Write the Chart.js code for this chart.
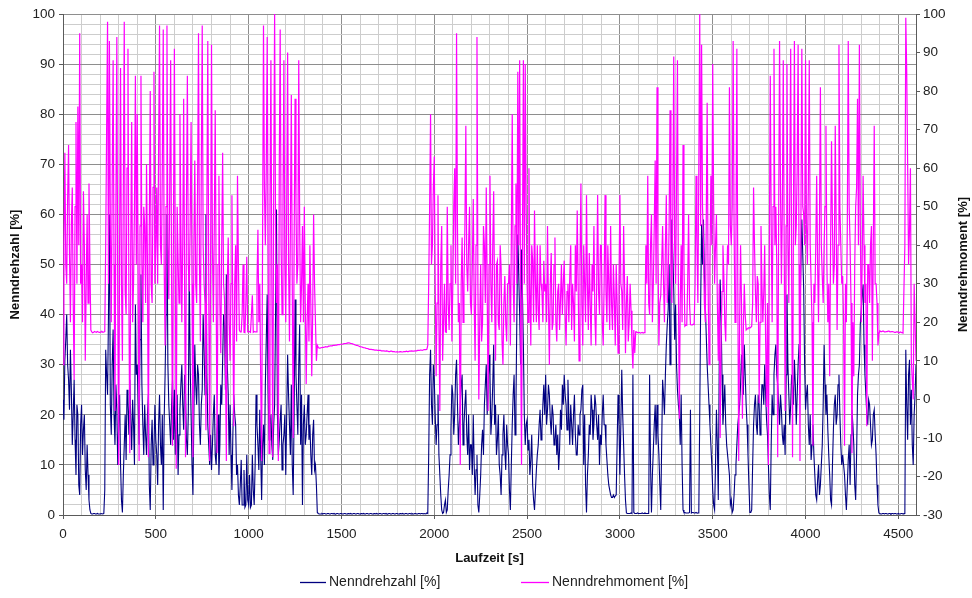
<!DOCTYPE html>
<html>
<head>
<meta charset="utf-8">
<script src="https://cdn.jsdelivr.net/npm/chart.js@4/dist/chart.umd.min.js"></script>
<style>
  html, body { margin: 0; padding: 0; background: #ffffff; }
  #wrap { width: 972px; height: 598px; }
</style>
</head>
<body>
<div id="wrap"><canvas id="c" width="972" height="598"></canvas></div>
<script>
// ---- data ----
const SAMPLE_STEP_S = 10;            // main samples at t = 0, 10, 20 ... s; in-between samples at t = 5, 15, 25 ... s
const X_GRID_STEP = 100;             // light vertical grid every 100 s
const xTickLabels = [0, 500, 1000, 1500, 2000, 2500, 3000, 3500, 4000, 4500];
const leftTickLabels = [0, 10, 20, 30, 40, 50, 60, 70, 80, 90, 100];
const rightTickLabels = [-30, -20, -10, 0, 10, 20, 30, 40, 50, 60, 70, 80, 90, 100];
const seriesNames = ['Nenndrehzahl [%]', 'Nenndrehmoment [%]'];
const xTitle = 'Laufzeit [s]';

// Nenndrehzahl [%] (left axis), t = 0, 10, 20 ... 4590 s
const nenndrehzahl = [
  23, 31, 40, 27, 33, 14, 27, 8, 20, 4,
  22, 17, 9, 14, 3, 0.3, 0.2, 0.3, 0.2, 0.2,
  0.2, 0.3, 0.3, 33, 24, 60, 16, 37, 14, 21,
  18, 10, 0.5, 14, 11, 22, 27, 13, 18, 42,
  30, 14, 48, 18, 22, 12, 24, 1, 19, 13,
  15, 6, 24, 10, 1, 28, 60, 22, 14, 27,
  25, 18, 8, 21, 30, 17, 24, 12, 49, 20,
  4, 34, 22, 28, 14, 25, 33, 60, 18, 10,
  9, 20, 12, 17, 8, 26, 31, 38, 48, 24,
  22, 5, 24, 18, 10, 2, 11, 2, 1.5, 12,
  2, 1.5, 12, 2, 24, 14, 21, 3, 18, 26,
  44, 15, 20, 11, 22, 61, 12, 19, 9, 16,
  8, 32, 18, 26, 4, 43, 22, 30, 14, 2,
  22, 16, 24, 18, 8, 19, 10, 0.5, 0.2, 0.2,
  0.2, 0.3, 0.2, 0.3, 0.2, 0.3, 0.3, 0.2, 0.3, 0.2,
  0.3, 0.2, 0.3, 0.2, 0.3, 0.3, 0.2, 0.3, 0.2, 0.3,
  0.2, 0.3, 0.3, 0.2, 0.3, 0.2, 0.3, 0.2, 0.3, 0.3,
  0.2, 0.3, 0.2, 0.3, 0.3, 0.2, 0.3, 0.2, 0.3, 0.2,
  0.3, 0.2, 0.3, 0.3, 0.2, 0.3, 0.2, 0.3, 0.3, 0.2,
  0.3, 0.2, 0.3, 0.3, 0.2, 0.3, 0.4, 12, 33, 18,
  27, 14, 24, 8, 1, 0.5, 3, 1, 8, 17,
  24, 20, 31, 14, 22, 28, 18, 25, 12, 9,
  14, 20, 4, 12, 0.5, 8, 17, 22, 30, 25,
  28, 20, 34, 22, 15, 10, 4, 16, 13, 18,
  12, 1, 18, 28, 22, 56, 40, 53, 34, 14,
  19, 15, 11, 6, 1, 9, 14, 21, 17, 26,
  28, 21, 24, 16, 20, 15, 12, 9, 21, 26,
  28, 22, 27, 14, 18, 20, 16, 12, 16, 21,
  26, 20, 0.5, 12, 16, 21, 18, 22, 15, 10,
  14, 24, 18, 11, 6, 4, 3.5, 3.5, 4, 24,
  8, 29, 14, 3, 0.3, 0.3, 0.4, 28, 0.3, 0.3,
  0.3, 0.3, 0.4, 0.3, 0.3, 0.3, 28, 0.5, 13, 22,
  22, 12, 1, 27, 20, 34, 41, 30, 59, 45,
  42, 25, 20, 24, 1, 0.5, 0.4, 0.4, 21, 0.5,
  0.4, 0.5, 0.4, 20, 58, 59, 42, 30, 22, 14,
  5, 1, 21, 3, 47, 28, 22, 18, 12, 8,
  3, 1, 8, 14, 20, 26, 28, 34, 22, 12,
  0.5, 1, 18, 24, 16, 22, 20, 26, 30, 19,
  10, 1, 24, 28, 34, 26, 18, 21, 14, 12,
  44, 24, 22, 26, 31, 18, 30, 40, 59, 45,
  21, 26, 14, 11, 18, 8, 3, 10, 6, 14,
  34, 20, 17, 8, 2, 17, 24, 20, 28, 14,
  12, 8, 1, 11, 6, 21, 14, 3, 24, 30,
  41, 46, 28, 20, 23, 18, 15, 21, 12, 2,
  0.3, 0.2, 0.3, 0.3, 0.2, 0.3, 0.2, 0.3, 0.3, 0.2,
  0.3, 0.2, 0.3, 0.3, 33, 15, 31, 25, 10, 24
];
// Nenndrehzahl [%], in-between samples t = 5, 15, 25 ... 4595 s
const nenndrehzahlZwischen = [
  19, 35, 30, 21, 25, 20, 15, 22, 6, 18,
  12, 20, 5, 8, 1, 0.2, 0.3, 0.2, 0.3, 0.2,
  0.3, 0.2, 5, 28, 40, 22, 30, 20, 26, 10,
  24, 3, 8, 20, 25, 16, 19, 23, 10, 28,
  22, 35, 26, 12, 16, 20, 6, 14, 10, 22,
  12, 18, 14, 20, 19, 40, 30, 18, 22, 15,
  12, 24, 16, 26, 22, 28, 15, 20, 30, 10,
  20, 26, 30, 18, 22, 40, 24, 28, 14, 16,
  14, 24, 10, 20, 14, 22, 40, 25, 30, 12,
  12, 16, 20, 8, 4, 6, 2, 9, 2, 3,
  8, 2, 5, 10, 18, 9, 12, 14, 10, 35,
  25, 18, 14, 18, 40, 20, 15, 22, 14, 20,
  20, 24, 12, 10, 20, 28, 16, 38, 24, 18,
  14, 20, 15, 12, 16, 9, 6, 0.3, 0.2, 0.3,
  0.3, 0.2, 0.3, 0.2, 0.3, 0.2, 0.2, 0.3, 0.2, 0.3,
  0.2, 0.3, 0.2, 0.3, 0.2, 0.2, 0.3, 0.2, 0.3, 0.2,
  0.3, 0.2, 0.2, 0.3, 0.2, 0.3, 0.2, 0.3, 0.2, 0.2,
  0.3, 0.2, 0.3, 0.2, 0.2, 0.3, 0.2, 0.3, 0.2, 0.3,
  0.2, 0.3, 0.2, 0.2, 0.3, 0.2, 0.3, 0.2, 0.2, 0.3,
  0.2, 0.3, 0.2, 0.3, 0.3, 0.2, 0.3, 28, 22, 30,
  20, 18, 12, 4, 0.3, 2, 0.5, 5, 12, 26,
  16, 28, 22, 18, 26, 14, 22, 16, 20, 14,
  8, 10, 9, 2, 4, 14, 12, 26, 20, 32,
  16, 26, 18, 12, 20, 8, 12, 20, 9, 14,
  5, 10, 24, 16, 40, 48, 30, 44, 20, 18,
  13, 8, 16, 3, 5, 12, 18, 15, 22, 20,
  18, 26, 19, 22, 14, 18, 16, 13, 17, 22,
  24, 17, 20, 22, 14, 24, 12, 18, 20, 25,
  10, 6, 8, 18, 24, 15, 24, 18, 20, 16,
  20, 18, 14, 8, 5, 3.5, 4, 3.8, 14, 18,
  18, 20, 8, 0.4, 0.3, 0.3, 0.3, 0.5, 0.3, 0.4,
  0.3, 0.3, 0.3, 0.4, 0.3, 0.3, 10, 8, 18, 14,
  16, 6, 14, 24, 28, 38, 50, 44, 52, 35,
  30, 22, 14, 10, 0.5, 0.4, 0.4, 0.5, 0.4, 0.5,
  0.4, 0.4, 0.4, 42, 50, 48, 36, 26, 18, 10,
  2, 10, 14, 30, 40, 18, 26, 14, 10, 2,
  0.5, 4, 10, 18, 22, 32, 24, 28, 18, 6,
  0.5, 10, 22, 18, 24, 16, 26, 22, 24, 16,
  4, 14, 20, 32, 28, 22, 24, 16, 18, 28,
  30, 18, 28, 22, 26, 24, 34, 50, 52, 30,
  24, 18, 20, 14, 12, 4, 7, 4, 10, 22,
  26, 24, 12, 3, 10, 22, 18, 26, 20, 10,
  10, 4, 6, 14, 16, 18, 6, 12, 28, 38,
  44, 34, 24, 18, 22, 14, 20, 16, 6, 0.4,
  0.2, 0.3, 0.2, 0.3, 0.2, 0.3, 0.3, 0.2, 0.3, 0.2,
  0.2, 0.3, 0.2, 0.3, 22, 28, 18, 14, 20, 30
];

// Nenndrehmoment [%] (right axis), t = 0, 10, 20 ... 4590 s
const nenndrehmoment = [
  9, 64, 30, 66, 20, 55, 5, 72, 76, 95,
  35, 54, 10, 48, 56, 18, 17.3, 17.6, 17.4, 17.5,
  17.4, 17.6, 17.5, 40, 98, 93, 20, 88, -3, 94,
  -17, 86, 10, 98, 22, 91, -14, 72, 30, 84,
  74, -16, 84, 20, 45, 61, -15, 80, 25, 85,
  40, 30, 97, 35, 96, 14, 97, 26, 88, -12,
  91, -18, 36, 74, 20, 78, -15, 84, 28, 72,
  -15, 62, 25, 95, 15, 97, 30, -8, 93, -16,
  92, 20, 75, -14, 58, 12, 64, 26, -16, 42,
  10, 53, -7, 40, 58, 18, 17.5, 35, 17.3, 37,
  17.5, 17.4, 27, 17.6, 17.5, 44, 30, -16, 97, 40,
  94, -14, 88, -15, 100, 25, -16, 96, 22, 88,
  20, 90, 15, 79, -10, 78, 30, 88, 20, 45,
  50, 4, 30, 40, 6, 48, 20, 14, 13.3, 13.4,
  13.5, 13.6, 13.6, 13.8, 13.9, 13.9, 14.0, 14.1, 14.2, 14.2,
  14.3, 14.4, 14.5, 14.6, 14.7, 14.5, 14.4, 14.2, 14.0, 13.9,
  13.7, 13.6, 13.4, 13.3, 13.2, 13.0, 13.0, 12.9, 12.8, 12.8,
  12.7, 12.7, 12.6, 12.6, 12.5, 12.5, 12.4, 12.5, 12.4, 12.3,
  12.4, 12.3, 12.4, 12.3, 12.4, 12.5, 12.4, 12.5, 12.6, 12.5,
  12.6, 12.7, 12.7, 12.8, 12.8, 12.9, 13, 30, 74, 40,
  63, 6, 53, -3, 45, 20, 17.5, 50, 18, 40,
  30, 60, 95, 20, -17, 42, 30, 71, 28, 50,
  22, 52, 10, 94, 0, 35, 20, 40, 55, -3,
  58, 20, 54, 10, 36, 18, 34, 9, 32, 15,
  30, 14, 74, 20, 56, 85, 88, -17, 88, 87,
  30, 60, 14, 36, 49, 20, 23, 40, 28, 36,
  30, 45, 9, 38, 20, 42, 15, 30, 26, 22,
  36, 14, 30, 32, 18, 25, 40, 49, 10, 56,
  14, 30, 53, 18, 25, 35, 45, 14, 53, 22,
  40, 14, 53, 20, 30, 45, 18, 26, 35, 12,
  53, 28, 45, 12, 32, 20, 23, 8, 12, 17.5,
  17.3, 17.2, 17.4, 17.3, 40, 58, 22, 48, 30, 62,
  81, 14, 27, 45, 20, 53, 30, 75, 25, 89,
  30, 88, -5, 40, 66, 19, 19.2, 48, 19.4, 19.3,
  19.4, 58, 25, 100, 92, 40, 20, 77, 9, 58,
  87, 30, 48, 10, -10, 28, 32, 15, 40, 81,
  40, 93, 20, 91, -16, 40, -5, 30, 18, 18.5,
  18.5, 19, 55, 28, 32, -1, 45, 20, 40, -2,
  -17, 84, 20, 91, 50, -15, 93, 30, 88, -3,
  87, 25, 91, -15, 93, 45, 92, -16, 91, 48,
  88, 35, 88, 30, -12, 25, 58, 20, 81, 32,
  40, 71, 20, 6, 67, 30, 71, 18, 92, 40,
  32, -12, 20, 93, 40, -14, 6, 50, 78, 92,
  20, 58, 25, -7, 35, 40, 10, 71, 30, 14,
  17.8, 17.6, 17.7, 17.5, 17.6, 17.7, 17.5, 17.6, 17.4, 17.5,
  17.4, 17.5, 17.3, 17.2, 99, 61, 44, 10, 0, 20
];
// Nenndrehmoment [%], in-between samples t = 5, 15, 25 ... 4595 s
const nenndrehmomentZwischen = [
  40, 35, 52, 38, 45, 25, 50, 30, 40, 30,
  20, 40, 30, 25, 35, 17.5, 17.4, 17.5, 17.6, 17.4,
  17.5, 17.4, 17.6, 70, 30, 45, 55, 35, 50, 25,
  40, 30, 55, 28, 60, 25, 40, 20, 50, 35,
  30, 45, 35, 50, 25, 35, 45, 30, 55, 30,
  55, 65, 40, 60, 35, 50, 40, 55, 30, 45,
  35, 50, 25, 45, 40, 30, 50, 35, 45, 30,
  40, 30, 55, 35, 60, 40, 25, 50, 30, 35,
  40, 45, 30, 35, 25, 40, 30, 10, 30, 20,
  30, 20, 30, 15, 35, 17.5, 22, 17.4, 25, 17.5,
  17.6, 22, 17.4, 17.5, 30, 20, 5, 40, 55, 60,
  40, 50, 30, 55, 45, 35, 60, 40, 50, 35,
  50, 35, 45, 30, 40, 50, 35, 45, 30, 20,
  25, 20, 15, 25, 22, 30, 10, 13.5, 13.3, 13.4,
  13.5, 13.7, 13.6, 13.8, 13.9, 14.0, 14.0, 14.1, 14.2, 14.3,
  14.3, 14.5, 14.5, 14.7, 14.6, 14.5, 14.3, 14.1, 14.0, 13.8,
  13.7, 13.5, 13.4, 13.2, 13.1, 13.0, 12.9, 12.9, 12.8, 12.7,
  12.7, 12.6, 12.6, 12.5, 12.6, 12.4, 12.5, 12.4, 12.4, 12.3,
  12.3, 12.4, 12.3, 12.4, 12.4, 12.4, 12.5, 12.6, 12.5, 12.6,
  12.6, 12.7, 12.8, 12.7, 12.9, 12.9, 14, 50, 35, 55,
  30, 25, 20, 35, 10, 30, 17.4, 25, 30, 15,
  50, 30, 45, 25, 30, 20, 45, 35, 40, 25,
  35, 25, 40, 30, 20, 15, 45, 25, 30, 35,
  30, 40, 25, 35, 20, 40, 15, 25, 20, 30,
  35, 40, 30, 45, 30, 40, 20, 40, 30, 50,
  20, 30, 40, 20, 30, 40, 18, 30, 20, 28,
  20, 25, 30, 18, 35, 20, 28, 18, 35, 30,
  22, 28, 20, 40, 30, 15, 28, 30, 35, 25,
  40, 20, 30, 38, 14, 28, 22, 30, 28, 40,
  20, 30, 28, 40, 18, 25, 35, 14, 25, 30,
  30, 18, 30, 25, 15, 30, 14, 18, 17.5, 17.3,
  17.4, 17.3, 17.2, 22, 30, 25, 40, 20, 45, 30,
  40, 25, 35, 30, 40, 25, 45, 35, 50, 40,
  55, 30, 25, 20, 35, 19.3, 30, 25, 19.3, 19.5,
  30, 40, 60, 45, 50, 25, 45, 30, 35, 40,
  50, 40, 25, 30, 15, 40, 20, 30, 35, 45,
  50, 45, 40, 30, 20, 25, 18, 22, 18.3, 18.6,
  18.7, 25, 40, 20, 30, 20, 30, 28, 15, 25,
  40, 45, 50, 40, 35, 45, 55, 50, 40, 45,
  40, 55, 35, 50, 40, 60, 35, 45, 50, 40,
  45, 55, 40, 20, 30, 40, 35, 45, 40, 25,
  50, 35, 30, 40, 45, 35, 45, 40, 50, 30,
  20, 30, 45, 50, 25, 20, 35, 55, 40, 45,
  35, 40, 30, 35, 25, 45, 40, 30, 25, 17,
  17.6, 17.7, 17.5, 17.6, 17.7, 17.5, 17.6, 17.5, 17.4, 17.5,
  17.3, 17.4, 17.2, 40, 85, 35, 60, 5, 30, 10
];

// ---- styling ----
const FONT = '"Liberation Sans", Arial, sans-serif';
const BLUE = '#000080';
const MAGENTA = '#FF00FF';
const MAJOR_GRID = '#8e8e8e';
const MINOR_GRID = '#cdcdcd';
const AXIS_LINE = '#5a5a5a';
const TEXT = '#222222';
const X_MAX = 4595;

// merge the main samples and the in-between samples into one time-ordered point list
const toPoints = (main, between) => {
  const pts = [];
  main.forEach((v, i) => {
    pts.push({ x: i * SAMPLE_STEP_S, y: v });
    if (i < between.length) pts.push({ x: i * SAMPLE_STEP_S + SAMPLE_STEP_S / 2, y: between[i] });
  });
  return pts;
};
const isIn = (list, v) => list.some(t => Math.abs(t - v) < 1e-6);

const extraText = {
  id: 'extraText',
  afterDraw(chart) {
    const ctx = chart.ctx;
    const ca = chart.chartArea;
    // right axis title (reads bottom-to-top like the left one)
    ctx.save();
    ctx.font = 'bold 13px ' + FONT;
    ctx.fillStyle = '#111';
    ctx.textAlign = 'center';
    ctx.textBaseline = 'middle';
    ctx.translate(963, (ca.top + ca.bottom) / 2);
    ctx.rotate(-Math.PI / 2);
    ctx.fillText(seriesNames[1], 0, 0);
    ctx.restore();
    // legend
    const items = [
      { x: 300, len: 26, color: BLUE, text: chart.data.datasets[0].label },
      { x: 521, len: 28, color: MAGENTA, text: chart.data.datasets[1].label }
    ];
    const ly = 582;
    ctx.save();
    ctx.font = '14px ' + FONT;
    ctx.textAlign = 'left';
    ctx.textBaseline = 'middle';
    items.forEach(it => {
      ctx.strokeStyle = it.color;
      ctx.lineWidth = 1.3;
      ctx.beginPath();
      ctx.moveTo(it.x, ly + 0.5);
      ctx.lineTo(it.x + it.len, ly + 0.5);
      ctx.stroke();
      ctx.fillStyle = TEXT;
      ctx.fillText(it.text, it.x + it.len + 3, ly);
    });
    ctx.restore();
  }
};

new Chart(document.getElementById('c'), {
  type: 'line',
  data: {
    datasets: [
      {
        label: seriesNames[0],
        data: toPoints(nenndrehzahl, nenndrehzahlZwischen),
        yAxisID: 'yL',
        borderColor: BLUE,
        backgroundColor: BLUE,
        borderWidth: 1.1,
        pointRadius: 0,
        tension: 0,
        fill: false,
        order: 2
      },
      {
        label: seriesNames[1],
        data: toPoints(nenndrehmoment, nenndrehmomentZwischen),
        yAxisID: 'yR',
        borderColor: MAGENTA,
        backgroundColor: MAGENTA,
        borderWidth: 1.2,
        pointRadius: 0,
        tension: 0,
        fill: false,
        order: 1
      }
    ]
  },
  options: {
    responsive: false,
    devicePixelRatio: 1,
    animation: false,
    events: [],
    layout: { padding: { top: 14, left: 0, right: 0, bottom: 0 }, autoPadding: false },
    plugins: { legend: { display: false }, tooltip: { enabled: false } },
    scales: {
      x: {
        type: 'linear',
        position: 'bottom',
        min: 0,
        max: X_MAX,
        afterFit: s => { s.height = 83; },
        afterBuildTicks: s => {
          const t = [];
          for (let v = 0; v <= X_MAX; v += X_GRID_STEP) t.push({ value: v });
          s.ticks = t;
        },
        ticks: {
          autoSkip: false,
          maxRotation: 0,
          padding: 7,
          color: TEXT,
          font: { family: FONT, size: 13.5 },
          callback: v => isIn(xTickLabels, v) ? String(Math.round(v)) : ''
        },
        grid: {
          color: c => (c.tick && isIn(xTickLabels, c.tick.value)) ? MAJOR_GRID : MINOR_GRID,
          lineWidth: 1,
          tickLength: 4,
          tickColor: c => (c.tick && isIn(xTickLabels, c.tick.value)) ? AXIS_LINE : 'rgba(0,0,0,0)'
        },
        border: { display: true, color: AXIS_LINE, width: 1 },
        title: {
          display: true,
          text: xTitle,
          color: '#111',
          font: { family: FONT, size: 13, weight: 'bold' },
          padding: { top: 0, bottom: 32 }
        }
      },
      yL: {
        type: 'linear',
        position: 'left',
        min: 0,
        max: 100,
        afterFit: s => { s.width = 63; },
        ticks: {
          stepSize: 2,
          autoSkip: false,
          padding: 4,
          color: TEXT,
          font: { family: FONT, size: 13.5 },
          callback: v => isIn(leftTickLabels, v) ? String(Math.round(v)) : ''
        },
        grid: {
          color: c => (c.tick && isIn(leftTickLabels, c.tick.value)) ? MAJOR_GRID : MINOR_GRID,
          lineWidth: 1,
          tickLength: 4,
          tickColor: c => (c.tick && isIn(leftTickLabels, c.tick.value)) ? AXIS_LINE : 'rgba(0,0,0,0)'
        },
        border: { display: true, color: AXIS_LINE, width: 1 },
        title: {
          display: true,
          text: seriesNames[0],
          color: '#111',
          font: { family: FONT, size: 13, weight: 'bold' },
          padding: { top: 8, bottom: 0 }
        }
      },
      yR: {
        type: 'linear',
        position: 'right',
        min: -30,
        max: 100,
        afterFit: s => { s.width = 56; },
        ticks: {
          stepSize: 10,
          autoSkip: false,
          padding: 3,
          color: TEXT,
          font: { family: FONT, size: 13.5 },
          callback: v => isIn(rightTickLabels, v) ? String(Math.round(v)) : ''
        },
        grid: {
          drawOnChartArea: false,
          tickLength: 4,
          tickColor: AXIS_LINE
        },
        border: { display: true, color: AXIS_LINE, width: 1 },
        title: { display: false }
      }
    }
  },
  plugins: [extraText]
});
</script>
</body>
</html>
